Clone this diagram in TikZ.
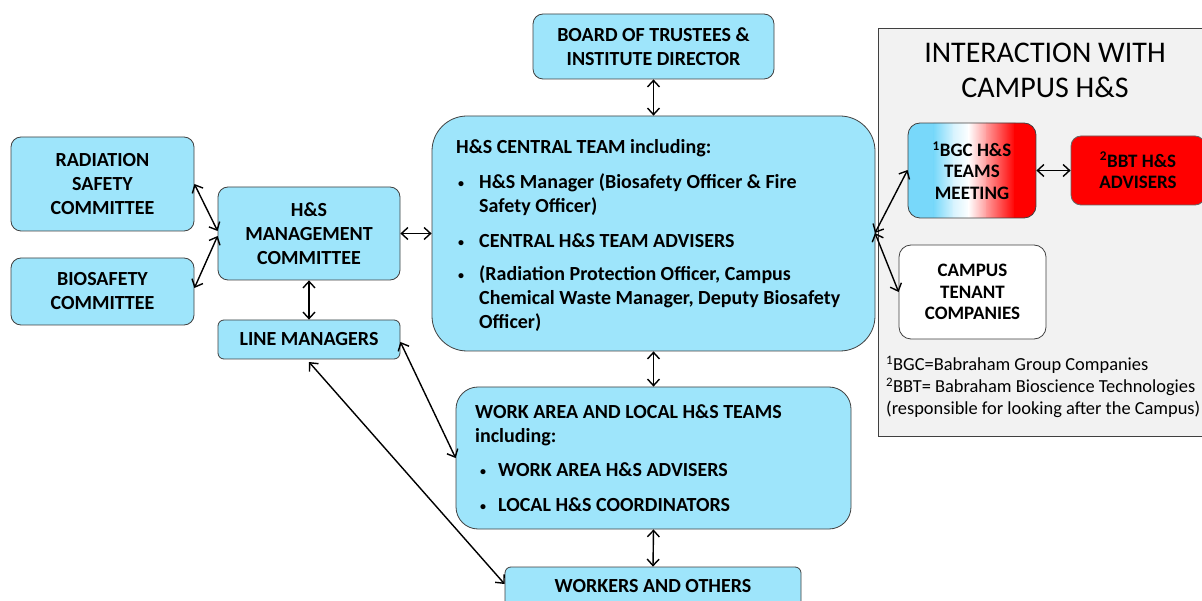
\documentclass[tikz,border=0pt]{standalone}
\usepackage{fontspec}
\setmainfont{Carlito}
\usetikzlibrary{arrows.meta,calc}
\definecolor{boxblue}{RGB}{158,229,251}
\definecolor{panelgray}{RGB}{242,242,242}
\definecolor{bbtred}{RGB}{255,0,0}
\definecolor{gcyan}{RGB}{120,216,250}
\tikzset{
  box/.style={draw=black!75, line width=0.8pt, rounded corners=10pt, fill=boxblue, inner sep=0pt, align=center, font=\fontsize{20}{24}\selectfont\bfseries},
  txt/.style={inner sep=0pt, anchor=north west, align=left, font=\fontsize{20}{24}\selectfont\bfseries},
  small/.style={inner sep=0pt, align=center, font=\fontsize{19}{21.5}\selectfont\bfseries},
  link/.style={{Straight Barb[length=6.5pt,width=12pt]}-{Straight Barb[length=6.5pt,width=12pt]}, line width=1.4pt, black},
}
\newcommand{\bul}[1]{\makebox[#1][l]{\raisebox{1pt}{\scalebox{0.6}{•}}}}
\newcommand{\gb}[1]{($(path picture bounding box.south west)!#1!(path picture bounding box.south east)$)}
\newcommand{\gt}[1]{($(path picture bounding box.north west)!#1!(path picture bounding box.north east)$)}
\begin{document}
\begin{tikzpicture}[x=1pt,y=-1pt]
\useasboundingbox (0,0) rectangle (1202,601);
\fill[white] (0,0) rectangle (1202,601);
% panel
\node[draw=black!75, fill=panelgray, line width=0.8pt, minimum width=330, minimum height=408, inner sep=0pt] (panel) at (1043,232) {};
\node[inner sep=0pt, align=center, font=\fontsize{30}{35}\selectfont] (ptitle) at (1045,70) {INTERACTION WITH\\CAMPUS H\&S};
% boxes
\node[box, minimum width=241, minimum height=65] (board) at (653.5,46.5) {BOARD OF TRUSTEES \&\\INSTITUTE DIRECTOR};
\node[box, rounded corners=35pt, minimum width=443, minimum height=235] (central) at (653.5,233.5) {};
\node[box, minimum width=183, minimum height=94] (rad) at (102.5,184) {RADIATION\\SAFETY\\COMMITTEE};
\node[box, minimum width=183, minimum height=67] (bio) at (102.5,291.5) {BIOSAFETY\\COMMITTEE};
\node[box, minimum width=182, minimum height=93] (mgmt) at (309,233.5) {H\&S\\MANAGEMENT\\COMMITTEE};
\node[box, rounded corners=6pt, minimum width=182, minimum height=39] (line) at (309,339.5) {LINE MANAGERS};
\node[box, rounded corners=22pt, minimum width=395, minimum height=142] (work) at (653.5,458) {};
\node[box, rounded corners=6pt, minimum width=296, minimum height=50] (workers) at (653,592) {};
\node[inner sep=0pt, font=\fontsize{20}{24}\selectfont\bfseries] (workerst) at (653,586) {WORKERS AND OTHERS};
% central text
\node[txt] (centralt) at (456,139) {H\&S CENTRAL TEAM including:\\[11pt]
\hspace*{2pt}\bul{21pt}H\&S Manager (Biosafety Officer \& Fire\\
\hspace*{23pt}Safety Officer)\\[11pt]
\hspace*{2pt}\bul{21pt}CENTRAL H\&S TEAM ADVISERS\\[9pt]
\hspace*{2pt}\bul{21pt}(Radiation Protection Officer, Campus\\
\hspace*{23pt}Chemical Waste Manager, Deputy Biosafety\\
\hspace*{23pt}Officer)};
\node[txt] (workt) at (475,404) {WORK AREA AND LOCAL H\&S TEAMS\\
including:\\[10pt]
\hspace*{5pt}\bul{18pt}WORK AREA H\&S ADVISERS\\[11pt]
\hspace*{5pt}\bul{18pt}LOCAL H\&S COORDINATORS};
% campus boxes
\node[small, draw=black!75, line width=0.8pt, rounded corners=12pt, minimum width=128, minimum height=95,
  path picture={
    \begin{scope}[sharp corners]
    \fill[gcyan] \gb{0} rectangle \gt{0.21};
    \shade[left color=gcyan, right color=gcyan!30!white] \gb{0.20} rectangle \gt{0.36};
    \shade[left color=gcyan!30!white, right color=white] \gb{0.35} rectangle \gt{0.48};
    \shade[left color=white, right color=red!40!white] \gb{0.47} rectangle \gt{0.62};
    \shade[left color=red!40!white, right color=bbtred] \gb{0.61} rectangle \gt{0.84};
    \fill[bbtred] \gb{0.83} rectangle \gt{1};
    \end{scope}
  }] (bgc) at (972,170.5) {\textsuperscript{1}BGC H\&S\\TEAMS\\MEETING};
\node[small, draw=black!60, fill=bbtred, line width=0.8pt, rounded corners=10pt, minimum width=134, minimum height=69] (bbt) at (1138,170.5) {\textsuperscript{2}BBT H\&S\\ADVISERS};
\node[small, draw=black!75, fill=white, line width=0.8pt, rounded corners=12pt, minimum width=147, minimum height=94] (tenant) at (972.5,292) {CAMPUS\\TENANT\\COMPANIES};
\node[inner sep=0pt, anchor=north west, align=left, font=\fontsize{18.4}{22}\selectfont] (notes) at (886,356) {\textsuperscript{1}BGC=Babraham Group Companies\\
\textsuperscript{2}BBT= Babraham Bioscience Technologies\\
(responsible for looking after the Campus)};
% connectors
\coordinate (cR) at (875,233);
\draw[link] (board.south) -- (central.north);
\draw[link] (central.south) -- (work.north);
\draw[link] (work.south) -- (workers.north);
\draw[link] (mgmt.east) -- (central.west);
\draw[link] (mgmt.south) -- (line.north);
\draw[link] (rad.east |- 0,184) -- (mgmt.west |- 0,231);
\draw[link] (bio.east |- 0,288) -- (mgmt.west |- 0,236);
\draw[link] (line.east |- 0,342) -- (work.west |- 0,458);
\draw[link] (line.south |- 0,362) -- (workers.west |- 0,584);
\draw[link] (cR) -- (bgc.west |- 0,170);
\draw[link] (cR) -- (tenant.west |- 0,292);
\draw[link] (bgc.east) -- (bbt.west);
\end{tikzpicture}
\end{document}
